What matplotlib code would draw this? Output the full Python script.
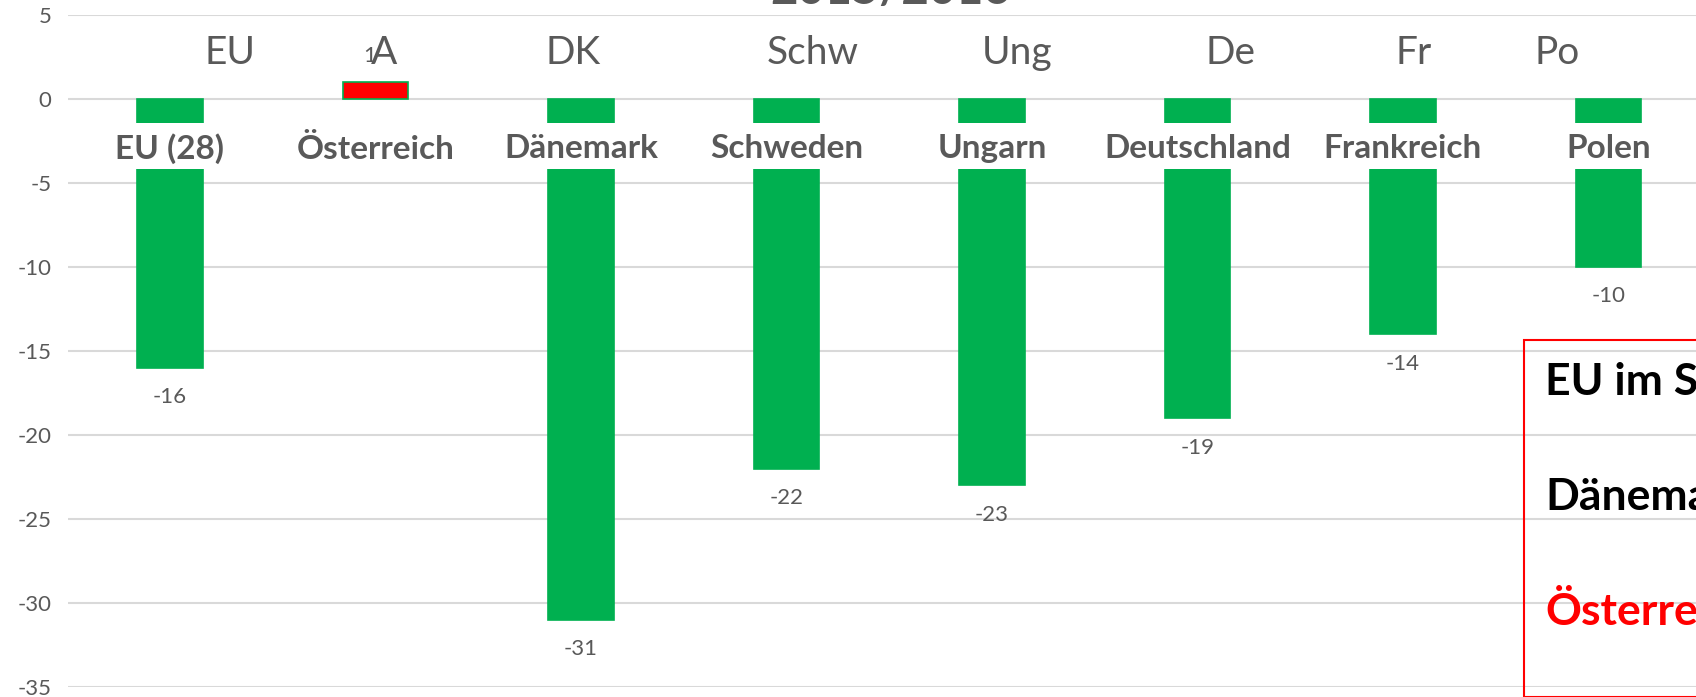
import matplotlib
matplotlib.use("Agg")
import matplotlib.pyplot as plt
from matplotlib.patches import Rectangle

# data
countries = ["EU (28)", "Österreich", "Dänemark", "Schweden", "Ungarn",
             "Deutschland", "Frankreich", "Polen"]
short_names = ["EU", "A", "DK", "Schw", "Ung", "De", "Fr", "Po"]
values = [-16, 1, -31, -22, -23, -19, -14, -10]
y_ticks = [5, 0, -5, -10, -15, -20, -25, -30, -35]
title = "2015/2016"
box_lines = ["EU im Schnitt", "Dänemark", "Österreich"]

# x offsets of the small text boxes above the bars (in category units)
short_pos = [0.29, 1.04, 1.96, 3.13, 4.12, 5.16, 6.05, 6.75]

GREEN = "#00B050"
RED = "#FF0000"
GREY = "#595959"

W, H = 1696, 697
fig = plt.figure(figsize=(W / 100, H / 100), dpi=100)
ax = fig.add_axes([68 / W, (H - 687) / H, (W - 68) / W, (687 - 15) / H])

x = list(range(len(countries)))
colors = [RED if v > 0 else GREEN for v in values]
ax.bar(x, values, width=0.32, color=colors, zorder=2,
       edgecolor=GREEN, linewidth=1.2)

ax.set_xlim(-0.496, 7.426)
ax.set_ylim(-35, 5)
ax.set_yticks(y_ticks)
ax.set_yticklabels([str(t) for t in y_ticks], family="Lato")
ax.tick_params(axis="y", length=0, pad=12, labelsize=16, labelcolor=GREY)
ax.set_xticks([])
for s in ax.spines.values():
    s.set_visible(False)
ax.grid(axis="y", color="#D9D9D9", linewidth=1.5, zorder=0)
ax.set_axisbelow(True)

# white band behind the category labels
ax.axhspan(-4.15, -1.4, color="white", zorder=3, linewidth=0)
for i, name in enumerate(countries):
    ax.text(i, -2.95, name, ha="center", va="center", fontsize=24,
            fontweight="bold", color=GREY, family="Lato", zorder=4)

# value labels
for i, v in enumerate(values):
    if v < 0:
        ax.text(i, v - 1.75, str(v), ha="center", va="center", fontsize=16,
                color=GREY, family="Lato", zorder=4)
    else:
        ax.text(i - 0.03, v + 1.53, str(v), ha="center", va="center", fontsize=16,
                color=GREY, family="Lato", zorder=4)

# short names on top
for p, s in zip(short_pos, short_names):
    ax.text(p, 2.1, s, ha="center", va="baseline", fontsize=28,
            fontweight="normal", family="Lato", color=GREY, zorder=4)

# title (cut off at the top)
fig.text(891 / W, 1 - 3.5 / H, title, ha="center", va="baseline", fontsize=34,
         fontweight="bold", color=GREY, family="Lato")

# red framed comment box, cut off at the right
fig.patches.append(Rectangle((1524 / W, 0), (W - 1524) / W + 0.1, (H - 340) / H,
                             transform=fig.transFigure, fill=False,
                             edgecolor=RED, linewidth=1.5, zorder=5))
for txt, yb, c in zip(box_lines, [395, 510, 625], ["black", "black", RED]):
    fig.text(1545 / W, 1 - yb / H, txt, ha="left", va="baseline", fontsize=32,
             fontweight="bold", color=c, family="Lato")

fig.savefig("out.png", dpi=100)
